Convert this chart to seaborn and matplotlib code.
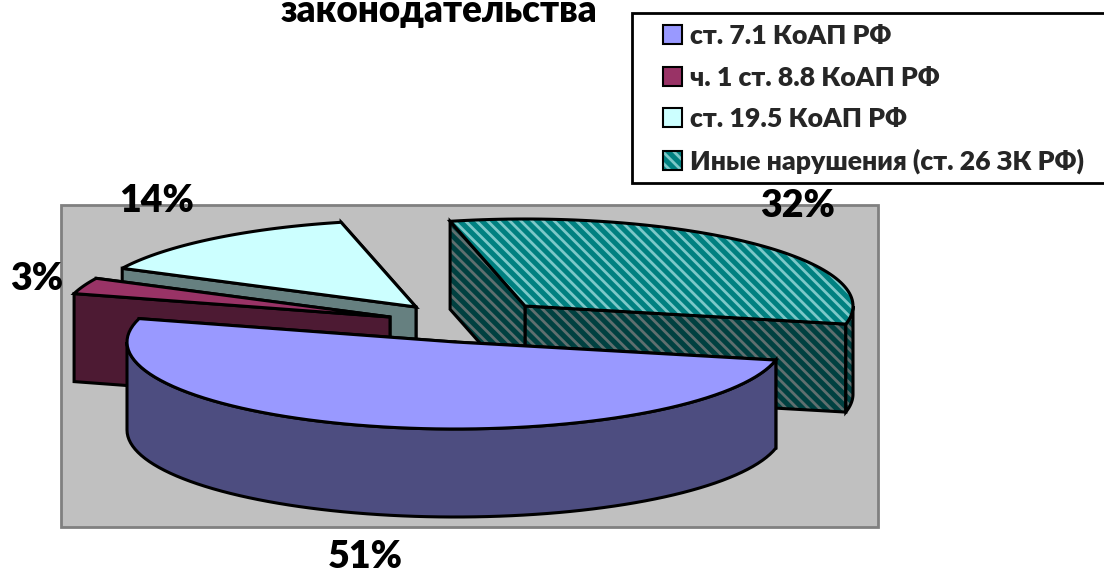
import numpy as np
import matplotlib
matplotlib.use("Agg")
import matplotlib.pyplot as plt
from matplotlib.legend_handler import HandlerTuple
from matplotlib.patches import Patch, Polygon, Rectangle
import seaborn as sns

title = "законодательства"
labels = ["ст. 7.1 КоАП РФ", "ч. 1 ст. 8.8 КоАП РФ", "ст. 19.5 КоАП РФ", "Иные нарушения (ст. 26 ЗК РФ)"]
shares = [51, 3, 14, 32]
top_colors = ["#9999ff", "#993366", "#ccffff", "#008080"]
side_colors = ["#4d4d80", "#4d1a33", "#668080", "#004040"]

sns.set_style("white")
plt.rcParams["font.family"] = ["Lato", "Noto Sans", "DejaVu Sans"]
plt.rcParams["hatch.linewidth"] = 2.0

fig, ax = plt.subplots(figsize=(11.04, 5.72), dpi=100)
fig.subplots_adjust(0, 0, 1, 1)
ax.set_xlim(0, 1104)
ax.set_ylim(572, 0)
ax.axis("off")

# geometria del pastel 3d (en pixeles)
rx, ry, depth = 328, 87, 88
start_angle = 12
centers = [(455, 342), (390, 317), (416, 307), (525, 306)]
label_pos = [(365, 557), (37, 279), (157, 201), (798, 206)]

ax.add_patch(Rectangle((61, 205), 817, 322, fc="#c0c0c0", ec="#808080", lw=2, zorder=0))


def rim(center, a0, a1):
    t = np.radians(np.linspace(a0, a1, 80))
    return np.column_stack([center[0] + rx * np.cos(t), center[1] + ry * np.sin(t)])


def face(pts, color, z, hatched, hatch_color):
    if hatched:
        ax.add_patch(Polygon(pts, closed=True, fc=color, ec=hatch_color, hatch="\\\\\\", lw=0, zorder=z))
        ax.add_patch(Polygon(pts, closed=True, fc="none", ec="black", lw=2.2, zorder=z + 0.1))
    else:
        ax.add_patch(Polygon(pts, closed=True, fc=color, ec="black", lw=2.2, zorder=z))


def side_wall(edge):
    return np.vstack([edge, (edge + [0, depth])[::-1]])


# primero lo que esta atras
angles = np.cumsum([0] + shares) * 3.6 + start_angle
draw_order = [3, 2, 1, 0]
for n, i in enumerate(draw_order):
    c = centers[i]
    a0, a1 = angles[i], angles[i + 1]
    z = 1 + n * 2
    hatched = i == 3
    edge = rim(c, a0, a1)
    apex = np.array([c])
    # paredes radiales
    face(side_wall(np.vstack([apex, edge[-1:]])), side_colors[i], z, hatched, "#5f6f6f")
    face(side_wall(np.vstack([apex, edge[:1]])), side_colors[i], z + 0.2, hatched, "#5f6f6f")
    # pared curva, solo la parte de adelante
    for lo, hi in [(a0, min(a1, 180)), (max(a0, 360), a1)]:
        if hi > lo:
            face(side_wall(rim(c, lo, hi)), side_colors[i], z + 0.4, hatched, "#5f6f6f")
    # tapa
    face(np.vstack([apex, edge]), top_colors[i], z + 0.6, hatched, "#7cc8c8")

for share, (x, y) in zip(shares, label_pos):
    ax.text(x, y, f"{share}%", ha="center", va="center", fontsize=27, fontweight="heavy", color="black", zorder=20)

ax.text(439, 22, title, ha="center", va="baseline", fontsize=26.5, fontweight="heavy", color="black", zorder=20)

# leyenda
ax.add_patch(Rectangle((632, 13), 480, 170, fc="white", ec="black", lw=2, zorder=15))
handles = []
for i, lab in enumerate(labels):
    if i == 3:
        striped = Patch(fc=top_colors[i], ec="#7cc8c8", hatch="\\\\\\", lw=0)
        outline = Patch(fc="none", ec="black", lw=1.5)
        handles.append((striped, outline))
    else:
        handles.append(Patch(fc=top_colors[i], ec="black", lw=1.5))
leg = ax.legend(handles, labels, handler_map={tuple: HandlerTuple(ndivide=1, pad=0)},
                loc="upper left", bbox_to_anchor=(663, 24), bbox_transform=ax.transData,
                frameon=False, fontsize=19.2, borderpad=0, borderaxespad=0, labelspacing=0.66,
                handlelength=0.72, handleheight=0.72, handletextpad=0.3)
leg.set_zorder(16)
for t in leg.get_texts():
    t.set_fontweight("heavy")

fig.savefig("out.png", dpi=100)
